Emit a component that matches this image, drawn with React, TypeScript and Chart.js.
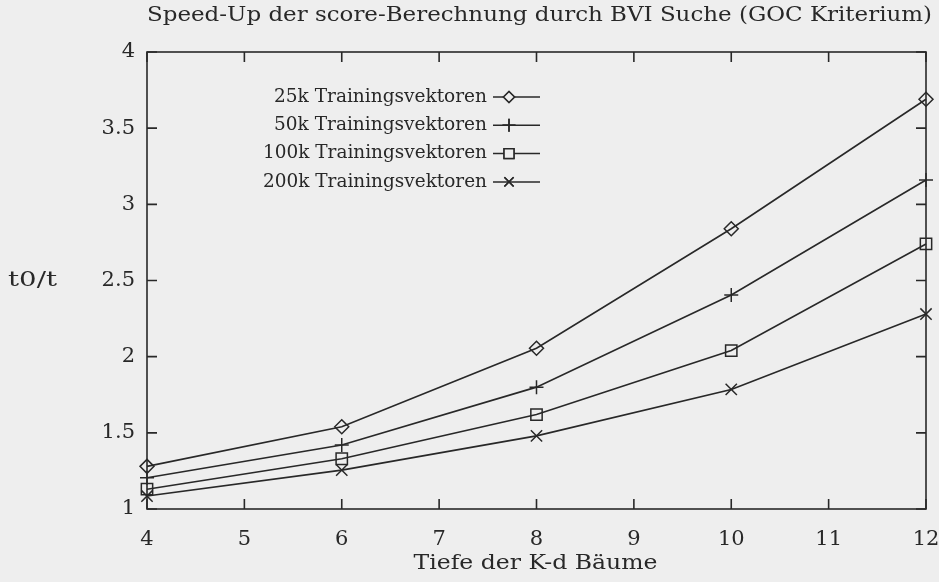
import React, { useEffect, useRef } from "react";
import { Chart, registerables } from "chart.js";
import { drawPoint } from "chart.js/helpers";

Chart.register(...registerables);

const depths = [4, 6, 8, 10, 12];
const s25k = [1.28, 1.54, 2.055, 2.84, 3.69];
const s50k = [1.205, 1.42, 1.8, 2.405, 3.16];
const s100k = [1.13, 1.33, 1.62, 2.04, 2.74];
const s200k = [1.085, 1.255, 1.48, 1.785, 2.28];
const seriesLabels = [
  "25k Trainingsvektoren",
  "50k Trainingsvektoren",
  "100k Trainingsvektoren",
  "200k Trainingsvektoren",
];
const pointStyles = ["rectRot", "cross", "rect", "crossRot"];
const pointRadii = [7, 7, 8, 8];
const legendRadii = [5.5, 6.5, 7, 6.5];
const titleText = "Speed-Up der score-Berechnung durch BVI Suche (GOC Kriterium)";
const xTitle = "Tiefe der K-d Bäume";
const yTitle = "t0/t";

const INK = "#282828";
const BG = "#eeeeee";
const FONT = "'DejaVu Serif', serif";

function stretchedText(ctx: any, text: string, x: number, y: number, font: string, targetWidth: number, align: "left" | "center" | "right") {
  ctx.save();
  ctx.font = font;
  ctx.textBaseline = "middle";
  ctx.textAlign = "left";
  const w = ctx.measureText(text).width;
  const sx = targetWidth / w;
  let x0 = x;
  if (align === "center") x0 = x - targetWidth / 2;
  if (align === "right") x0 = x - targetWidth;
  ctx.translate(x0, y);
  ctx.scale(sx, 1);
  ctx.fillText(text, 0, 0);
  ctx.restore();
}

const framePlugin = {
  id: "gnuFrame",
  beforeDraw(chart: any) {
    const { ctx, width, height } = chart;
    ctx.save();
    ctx.fillStyle = BG;
    ctx.fillRect(0, 0, width, height);
    ctx.restore();
  },
  beforeDatasetsDraw(chart: any) {
    const { ctx, chartArea } = chart;
    const { left, right, top, bottom } = chartArea;
    const xs = chart.scales.x;
    const ys = chart.scales.y;
    ctx.save();
    ctx.strokeStyle = INK;
    ctx.lineWidth = 1.6;
    ctx.strokeRect(left, top, right - left, bottom - top);
    const tl = 10;
    ctx.beginPath();
    xs.ticks.forEach((t: any) => {
      const px = xs.getPixelForValue(t.value);
      ctx.moveTo(px, bottom);
      ctx.lineTo(px, bottom - tl);
      ctx.moveTo(px, top);
      ctx.lineTo(px, top + tl);
    });
    ys.ticks.forEach((t: any) => {
      const py = ys.getPixelForValue(t.value);
      ctx.moveTo(left, py);
      ctx.lineTo(left + tl, py);
      ctx.moveTo(right, py);
      ctx.lineTo(right - tl, py);
    });
    ctx.stroke();

    ctx.fillStyle = INK;
    stretchedText(ctx, titleText, (left + right) / 2 + 3, 16, `20px ${FONT}`, 785, "center");
    stretchedText(ctx, xTitle, (left + right) / 2 - 1, 564, `20px ${FONT}`, 244, "center");
    stretchedText(ctx, yTitle, 8, 281, `20px ${FONT}`, 49, "left");
    ctx.restore();
  },
  afterDatasetsDraw(chart: any) {
    const { ctx, chartArea } = chart;
    const textRight = chartArea.left + 340;
    const lineStart = textRight + 6;
    const lineEnd = textRight + 53;
    const markX = textRight + 22;
    ctx.save();
    chart.data.datasets.forEach((ds: any, i: number) => {
      const y = chartArea.top + 45 + i * 28.3;
      ctx.fillStyle = INK;
      stretchedText(ctx, ds.label, textRight, y, `18px ${FONT}`, (ds.label.length >= 22 ? 224 : 213), "right");
      ctx.strokeStyle = INK;
      ctx.lineWidth = 1.5;
      ctx.beginPath();
      ctx.moveTo(lineStart, y);
      ctx.lineTo(lineEnd, y);
      ctx.stroke();
      ctx.fillStyle = BG;
      drawPoint(ctx, { pointStyle: ds.pointStyle, radius: legendRadii[i], borderWidth: 1.5, rotation: 0 }, markX, y);
      ctx.fill();
      ctx.stroke();
    });
    ctx.restore();
  },
};

export default function App() {
  const ref = useRef<HTMLCanvasElement | null>(null);
  useEffect(() => {
    document.body.style.margin = "0";
    document.body.style.background = BG;
    const all = [s25k, s50k, s100k, s200k];
    const chart = new Chart(ref.current as HTMLCanvasElement, {
      type: "line",
      data: {
        datasets: all.map((vals, i) => ({
          label: seriesLabels[i],
          data: depths.map((d, j) => ({ x: d, y: vals[j] })),
          borderColor: INK,
          borderWidth: 1.6,
          pointStyle: pointStyles[i],
          pointRadius: pointRadii[i],
          pointBorderColor: INK,
          pointBorderWidth: 1.5,
          pointBackgroundColor: "rgba(0,0,0,0)",
          tension: 0,
          fill: false,
        })),
      },
      options: {
        animation: false,
        responsive: false,
        clip: false as any,
        layout: { padding: { top: 52, right: 13, left: 0, bottom: 0 } },
        plugins: {
          legend: { display: false },
          title: { display: false },
          tooltip: { enabled: false },
        },
        scales: {
          x: {
            type: "linear",
            min: 4,
            max: 12,
            grid: { display: false, drawTicks: false },
            border: { display: false },
            ticks: {
              stepSize: 1,
              color: INK,
              font: { family: FONT, size: 21 },
              padding: 18,
              maxRotation: 0,
            },
            afterFit: (s: any) => {
              s.height = 73;
              s.paddingLeft = 0;
              s.paddingRight = 0;
            },
          },
          y: {
            type: "linear",
            min: 1,
            max: 4,
            grid: { display: false, drawTicks: false },
            border: { display: false },
            ticks: {
              stepSize: 0.5,
              color: INK,
              font: { family: FONT, size: 21 },
              padding: 12,
              callback: (v: any) => String(v),
            },
            afterFit: (s: any) => {
              s.width = 147;
              s.paddingTop = 0;
              s.paddingBottom = 0;
            },
          },
        },
      },
      plugins: [framePlugin],
    });
    return () => chart.destroy();
  }, []);
  return (
    <div style={{ width: 939, height: 582 }}>
      <canvas ref={ref} width={939} height={582} />
    </div>
  );
}
